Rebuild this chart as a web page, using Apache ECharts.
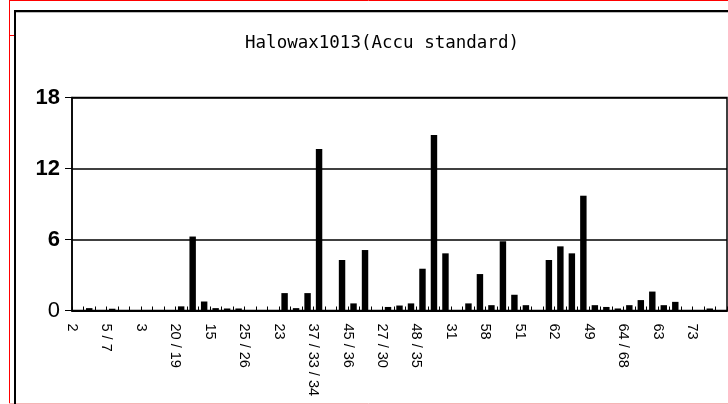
<!DOCTYPE html>
<html>
<head>
<meta charset="utf-8">
<script src="https://cdn.jsdelivr.net/npm/echarts@6/dist/echarts.min.js"></script>
<style>
  html, body { margin: 0; padding: 0; background: #fff; }
  #main { width: 728px; height: 404px; }
</style>
</head>
<body>
<div id="main"></div>
<script>
// congener labels, one per 3 categories (blank where the axis shows nothing)
var categories = [
    '2', '', '', '5/7', '', '', '3', '', '', '20/19', '', '',
    '15', '', '', '25/26', '', '', '23', '', '', '37/33/34', '', '',
    '45/36', '', '', '27/30', '', '', '48/35', '', '', '31', '', '',
    '58', '', '', '51', '', '', '62', '', '', '49', '', '',
    '64/68', '', '', '63', '', '', '73', '', ''
];
var values = [
    0, 0.2, 0, 0.15, 0, 0, 0, 0, 0, 0.35, 6.25, 0.76,
    0.2, 0.17, 0.17, 0, 0, 0, 1.47, 0.2, 1.47, 13.65, 0, 4.27,
    0.6, 5.11, 0, 0.3, 0.42, 0.6, 3.53, 14.83, 4.83, 0, 0.6, 3.08,
    0.45, 5.85, 1.33, 0.45, 0, 4.27, 5.42, 4.83, 9.7, 0.45, 0.3, 0.17,
    0.45, 0.88, 1.6, 0.45, 0.73, 0, 0, 0.17, 0
];
var yTicks = [0, 6, 12, 18];

var myChart = echarts.init(document.getElementById('main'));
var option = {
    animation: false,
    backgroundColor: '#fff',
    title: {
        text: 'Halowax1013(Accu standard)',
        left: 377,
        top: 29,
        textAlign: 'center',
        textStyle: {
            fontFamily: 'DejaVu Sans Mono',
            fontSize: 17.5,
            fontWeight: 'normal',
            color: '#000'
        }
    },
    grid: {
        left: 72,
        right: 1,
        top: 97.5,
        bottom: 93.5,
        show: true,
        borderColor: '#000',
        borderWidth: 1.5,
        backgroundColor: 'transparent'
    },
    xAxis: {
        type: 'category',
        data: categories,
        axisLine: { lineStyle: { color: '#000', width: 2 } },
        axisTick: { show: true, inside: true, length: 4, interval: 0, lineStyle: { color: '#000', width: 1 } },
        axisLabel: {
            interval: 0,
            rotate: -90,
            margin: 13,
            verticalAlign: 'top',
            lineHeight: 12,
            color: '#000',
            fontFamily: 'Liberation Sans',
            fontSize: 14.5,
            formatter: function (v) { return v.split('/').join(' / '); }
        }
    },
    yAxis: {
        type: 'value',
        min: yTicks[0],
        max: yTicks[yTicks.length - 1],
        interval: 6,
        axisLine: { show: true, lineStyle: { color: '#000', width: 1.5 } },
        axisTick: { show: true, length: 7, lineStyle: { color: '#000' } },
        splitLine: { lineStyle: { color: '#000', width: 1.5 } },
        axisLabel: {
            margin: 12,
            color: '#000',
            fontFamily: 'Liberation Sans',
            formatter: function (v) { return v === 0 ? '{n|0}' : '{b|' + v + '}'; },
            rich: {
                n: { fontSize: 22, fontWeight: 'normal', fontFamily: 'Liberation Sans', color: '#000' },
                b: { fontSize: 22, fontWeight: 'bold', fontFamily: 'Liberation Sans', color: '#000' }
            }
        }
    },
    series: [{
        type: 'bar',
        data: values,
        barWidth: '56%',
        itemStyle: { color: '#000' }
    }],
    graphic: [
        { type: 'line', shape: { x1: 9.5, y1: 0, x2: 9.5, y2: 404 }, style: { stroke: '#ff0000', lineWidth: 1 } },
        { type: 'line', shape: { x1: 9, y1: 0.5, x2: 728, y2: 0.5 }, style: { stroke: '#ff0000', lineWidth: 1 } },
        { type: 'line', shape: { x1: 9, y1: 35.5, x2: 15, y2: 35.5 }, style: { stroke: '#ff0000', lineWidth: 1 } },
        { type: 'line', shape: { x1: 9, y1: 403.5, x2: 728, y2: 403.5 }, style: { stroke: '#f5b5b5', lineWidth: 1 } },
        { type: 'line', shape: { x1: 15, y1: 11, x2: 15, y2: 404 }, style: { stroke: '#000', lineWidth: 2 } },
        { type: 'line', shape: { x1: 14, y1: 11, x2: 728, y2: 11 }, style: { stroke: '#000', lineWidth: 2 } },
        { type: 'line', shape: { x1: 16, y1: 12.5, x2: 728, y2: 12.5 }, style: { stroke: '#bbb', lineWidth: 1 } }
    ]
};
myChart.setOption(option);
</script>
</body>
</html>
